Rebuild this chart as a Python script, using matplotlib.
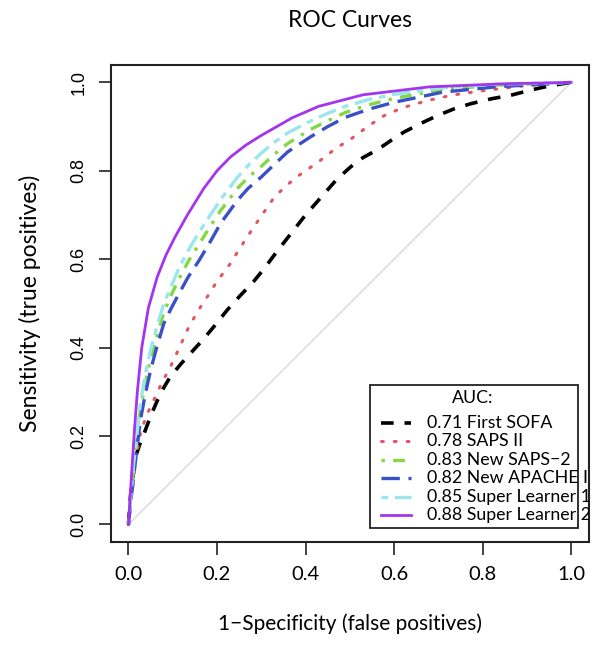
import matplotlib
matplotlib.use("Agg")
import matplotlib.pyplot as plt
from matplotlib.lines import Line2D
from matplotlib.patches import Rectangle

# ---- data ----
sofa_fpr = [0, 0.005, 0.016, 0.025, 0.035, 0.05, 0.065, 0.08, 0.095, 0.12, 0.14, 0.17, 0.195,
            0.223, 0.25, 0.283, 0.306, 0.335, 0.367, 0.40, 0.442, 0.47, 0.502, 0.53, 0.563,
            0.595, 0.623, 0.66, 0.698, 0.735, 0.774, 0.82, 0.864, 0.91, 0.955, 1.0]
sofa_tpr = [0, 0.07, 0.153, 0.18, 0.205, 0.245, 0.28, 0.31, 0.335, 0.365, 0.387, 0.42, 0.45,
            0.485, 0.515, 0.55, 0.578, 0.617, 0.658, 0.70, 0.748, 0.78, 0.809, 0.83, 0.848,
            0.87, 0.888, 0.907, 0.925, 0.94, 0.952, 0.963, 0.971, 0.983, 0.993, 1.0]

saps_fpr = [0, 0.004, 0.008, 0.016, 0.027, 0.04, 0.057, 0.075, 0.095, 0.115, 0.133, 0.155,
            0.178, 0.20, 0.23, 0.255, 0.283, 0.305, 0.33, 0.355, 0.38, 0.41, 0.434, 0.47,
            0.50, 0.54, 0.578, 0.62, 0.676, 0.73, 0.79, 0.90, 1.0]
saps_tpr = [0, 0.04, 0.07, 0.146, 0.206, 0.245, 0.281, 0.32, 0.357, 0.40, 0.44, 0.48,
            0.515, 0.55, 0.59, 0.63, 0.673, 0.705, 0.741, 0.765, 0.786, 0.807, 0.824, 0.852,
            0.87, 0.90, 0.925, 0.943, 0.959, 0.971, 0.98, 0.993, 1.0]

model_fpr = [0, 0.005, 0.012, 0.02, 0.027, 0.038, 0.05, 0.065, 0.08, 0.097, 0.114, 0.135,
             0.16, 0.185, 0.208, 0.246, 0.27, 0.30, 0.33, 0.36, 0.41, 0.45, 0.49, 0.545,
             0.60, 0.71, 0.83, 1.0]
apache_tpr = [0, 0.05, 0.11, 0.18, 0.236, 0.295, 0.349, 0.405, 0.455, 0.49, 0.522, 0.56,
              0.598, 0.64, 0.681, 0.733, 0.76, 0.786, 0.815, 0.843, 0.876, 0.90, 0.921, 0.94,
              0.955, 0.978, 0.99, 1.0]
newsaps_tpr = [0, 0.06, 0.13, 0.20, 0.26, 0.32, 0.375, 0.43, 0.48, 0.52, 0.555, 0.595,
               0.635, 0.675, 0.71, 0.76, 0.785, 0.81, 0.838, 0.862, 0.893, 0.913, 0.932, 0.95,
               0.964, 0.984, 0.994, 1.0]
sl1_tpr = [0, 0.06, 0.14, 0.21, 0.275, 0.34, 0.395, 0.45, 0.50, 0.54, 0.58, 0.62,
           0.662, 0.70, 0.735, 0.785, 0.812, 0.84, 0.865, 0.886, 0.912, 0.93, 0.946, 0.962,
           0.973, 0.988, 0.996, 1.0]

sl2_fpr = [0, 0.003, 0.008, 0.014, 0.02, 0.03, 0.045, 0.065, 0.085, 0.105, 0.133, 0.17,
           0.20, 0.23, 0.265, 0.30, 0.37, 0.43, 0.53, 0.68, 0.85, 1.0]
sl2_tpr = [0, 0.05, 0.13, 0.22, 0.30, 0.40, 0.49, 0.56, 0.61, 0.65, 0.70, 0.76,
           0.80, 0.831, 0.858, 0.88, 0.92, 0.946, 0.972, 0.99, 0.997, 1.0]

labels = ["0.71 First SOFA", "0.78 SAPS II", "0.83 New SAPS\u22122", "0.82 New APACHE II",
          "0.85 Super Learner 1", "0.88 Super Learner 2"]
ticks = [0.0, 0.2, 0.4, 0.6, 0.8, 1.0]
tick_labels = ["0.0", "0.2", "0.4", "0.6", "0.8", "1.0"]

FONT = ["Lato", "DejaVu Sans"]
YFONT = ["Liberation Sans", "DejaVu Sans"]

fig = plt.figure(figsize=(6.02, 6.54), dpi=100)
ax = fig.add_axes([0.184, 0.171, 0.794, 0.730])

ax.plot([0, 1], [0, 1], color="#d8d8d8", lw=1.0, zorder=1)

styles = [
    dict(color="black", lw=2.6, dashes=(3.5, 3.0)),
    dict(color="#E0575F", lw=2.2, dashes=(0.6, 3.6), dash_capstyle="round"),
    dict(color="#82D840", lw=2.4, dashes=(1.0, 2.5, 3.5, 2.5)),
    dict(color="#3A50C8", lw=2.4, dashes=(5.5, 2.6)),
    dict(color="#9BE6EC", lw=2.4, dashes=(2.0, 2.0, 5.5, 2.0)),
    dict(color="#A335EE", lw=2.0),
]
series = [
    (sofa_fpr, sofa_tpr),
    (saps_fpr, saps_tpr),
    (model_fpr, newsaps_tpr),
    (model_fpr, apache_tpr),
    (model_fpr, sl1_tpr),
    (sl2_fpr, sl2_tpr),
]
for (xs, ys), st in zip(series, styles):
    ax.plot(xs, ys, zorder=3, **st)

ax.set_xlim(-0.04, 1.04)
ax.set_ylim(-0.04, 1.04)
ax.set_xticks(ticks)
ax.set_xticklabels(tick_labels, family=FONT, fontsize=14.5)
ax.set_yticks(ticks)
ax.set_yticklabels(tick_labels, family=YFONT, fontsize=13, rotation=90, va="center")
ax.tick_params(axis="both", direction="out", length=9, width=1.2, color="#222222")
ax.tick_params(axis="x", pad=8)
ax.tick_params(axis="y", pad=8)
for sp in ax.spines.values():
    sp.set_linewidth(1.5)
    sp.set_color("#222222")

ax.set_xlabel("1\u2212Specificity (false positives)", family=FONT, fontsize=15, labelpad=22)
ax.set_ylabel("Sensitivity (true positives)", family=FONT, fontsize=16.5, labelpad=21)
ax.set_title("ROC Curves", family=FONT, fontsize=16.5, pad=27)

# ---- legend drawn in axes fraction coordinates, text clipped to the plot region ----
tr = ax.transAxes
ax.add_patch(Rectangle((0.542, 0.029), 0.435, 0.300, transform=tr, fill=True,
                       facecolor="white", edgecolor="#222222", lw=1.3, zorder=5))
ax.text(0.757, 0.302, "AUC:", transform=tr, family=FONT, fontsize=12.8, va="center",
        ha="center", zorder=6)
ys_leg = [0.250, 0.211, 0.173, 0.134, 0.094, 0.056]
for lab, st, yy in zip(labels, styles, ys_leg):
    ln = Line2D([0.566, 0.629], [yy, yy], transform=tr, zorder=6, **st)
    ax.add_line(ln)
    t = ax.text(0.661, yy, lab, transform=tr, family=FONT, fontsize=12.8, va="center",
                ha="left", zorder=6)
    t.set_clip_on(True)
    t.set_clip_path(ax.patch)

fig.savefig("out.png", dpi=100)
